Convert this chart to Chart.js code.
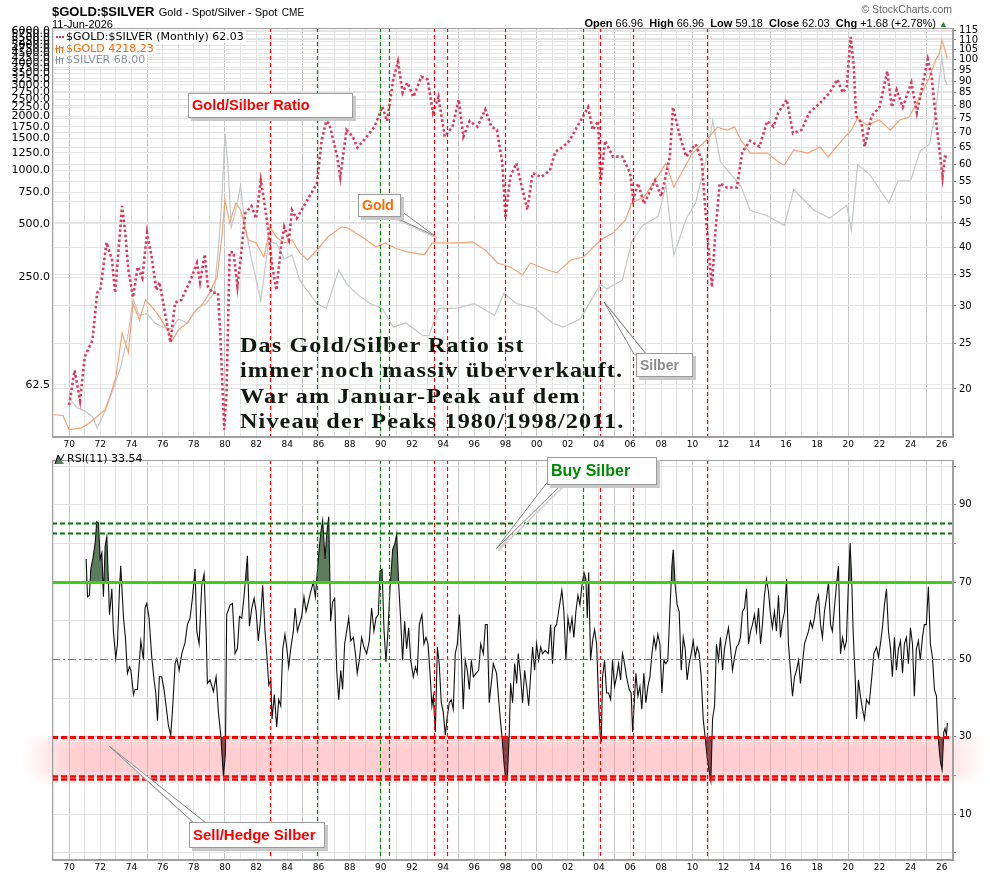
<!DOCTYPE html>
<html>
<head>
<meta charset="utf-8">
<script src="https://cdn.jsdelivr.net/npm/chart.js@4.4.1/dist/chart.umd.min.js"></script>
<style>
  body { margin: 0; background: #fff; width: 990px; height: 876px; overflow: hidden; position: relative; font-family: "Liberation Sans", Arial, sans-serif; }
  canvas { position: absolute; left: 0; }
  #topChart { top: 0; }
  #rsiChart { top: 451px; }
  .abs { position: absolute; white-space: nowrap; }
  .note { position: absolute; background: #fff; border: 1px solid #9a9a9a; box-shadow: 3px 3px 0 #c9c9c9; font-weight: bold; padding-left: 3px; box-sizing: border-box; white-space: nowrap; }
  .big { position: absolute; left: 240px; top: 332px; font-family: "Liberation Serif", "DejaVu Serif", serif; font-weight: bold; font-size: 22px; line-height: 25.4px; letter-spacing: 1px; color: #0f1a0f; white-space: nowrap; transform: scaleX(1.1); transform-origin: 0 0; }
</style>
</head>
<body>
<canvas id="topChart" width="990" height="451"></canvas>
<canvas id="rsiChart" width="990" height="425"></canvas>

<div class="abs" style="left:52px;top:2px;"><b style="font-size:13px;">$GOLD:$SILVER</b> <span style="font-size:11px;">Gold - Spot/Silver - Spot</span> <span style="font-size:10px;">CME</span></div>
<div class="abs" style="left:52px;top:18px;font-size:11px;">11-Jun-2026</div>
<div class="abs" style="right:38px;top:3px;font-size:10.5px;color:#666;">&copy; StockCharts.com</div>
<div class="abs" style="right:42px;top:17px;font-size:11px;"><b>Open</b> 66.96 &nbsp;<b>High</b> 66.96 &nbsp;<b>Low</b> 59.18 &nbsp;<b>Close</b> 62.03 &nbsp;<b>Chg</b> +1.68 (+2.78%) <span style="color:#2a8a2a;font-size:9px;">&#9650;</span></div>

<div class="note" style="left:188px;top:93px;width:165px;height:25px;line-height:23px;color:#ff0000;font-size:14.5px;">Gold/Silber Ratio</div>
<div class="note" style="left:358px;top:194px;width:43px;height:23px;line-height:21px;color:#ff6a00;font-size:14px;">Gold</div>
<div class="note" style="left:636px;top:353px;width:57px;height:24px;line-height:22px;color:#8c8c8c;font-size:14px;">Silber</div>
<div class="note" style="left:547px;top:457px;width:110px;height:28px;line-height:26px;color:#008a00;font-size:16px;">Buy Silber</div>
<div class="note" style="left:189px;top:822px;width:136px;height:26px;line-height:24px;color:#ff0000;font-size:15px;">Sell/Hedge Silber</div>

<div class="big">Das Gold/Silber Ratio ist<br>immer noch massiv überverkauft.<br>War am Januar-Peak auf dem<br>Niveau der Peaks 1980/1998/2011.</div>

<script>
// Gold/Silver ratio, monthly
const ratioDates = [1970.0, 1970.35, 1970.7, 1971.0, 1971.5, 1971.8, 1972.0, 1972.4, 1972.75, 1972.95,
  1973.4, 1973.6, 1973.8, 1974.1, 1974.4, 1974.7, 1975.0, 1975.3, 1975.6, 1975.8,
  1976.2, 1976.5, 1976.8, 1977.2, 1977.8, 1978.2, 1978.4, 1978.7, 1978.9, 1979.2,
  1979.55, 1979.7, 1979.95, 1980.1, 1980.3, 1980.55, 1980.8, 1981.0, 1981.3, 1981.7,
  1982.0, 1982.3, 1982.5, 1982.8, 1983.0, 1983.3, 1983.6, 1983.8, 1984.1, 1984.3,
  1984.6, 1985.3, 1985.9, 1986.2, 1986.5, 1986.7, 1987.2, 1987.4, 1987.8, 1988.2,
  1988.5, 1989.1, 1989.6, 1990.1, 1990.4, 1990.8, 1991.1, 1991.4, 1991.7, 1992.1,
  1992.6, 1993.0, 1993.35, 1993.7, 1994.1, 1994.6, 1995.0, 1995.3, 1995.7, 1996.2,
  1996.7, 1997.1, 1997.45, 1997.8, 1998.0, 1998.3, 1998.7, 1999.1, 1999.4, 1999.75,
  2000.3, 2000.85, 2001.2, 2001.7, 2002.1, 2002.6, 2003.0, 2003.3, 2003.6, 2003.95,
  2004.1, 2004.4, 2004.9, 2005.5, 2006.0, 2006.2, 2006.5, 2006.9, 2007.6, 2008.0,
  2008.55, 2008.75, 2009.2, 2009.6, 2010.2, 2010.6, 2010.8, 2011.0, 2011.25, 2011.45,
  2011.75, 2012.2, 2012.85, 2013.2, 2013.7, 2014.3, 2014.8, 2015.2, 2015.5, 2016.05,
  2016.45, 2017.0, 2017.5, 2018.2, 2018.8, 2019.3, 2019.65, 2019.9, 2020.15, 2020.35,
  2020.5, 2020.85, 2021.05, 2021.5, 2022.0, 2022.5, 2022.8, 2023.1, 2023.5, 2024.05,
  2024.4, 2024.7, 2025.1, 2025.35, 2025.7, 2025.9, 2026.05, 2026.2, 2026.35];
const ratioValues = [18.5, 21.9, 18.9, 23.4, 25.4, 32.0, 32.4, 40.9, 37.6, 32.0,
  48.9, 42.9, 35.8, 31.3, 36.3, 34.4, 42.9, 38.0, 32.4, 33.7,
  28.4, 25.1, 30.5, 30.9, 34.1, 37.0, 33.7, 38.6, 33.0, 32.0,
  32.0, 26.3, 16.4, 19.6, 39.0, 39.0, 33.0, 37.6, 47.2, 48.9,
  46.0, 55.4, 50.4, 42.9, 37.0, 32.4, 40.0, 44.1, 41.4, 47.9,
  46.0, 50.4, 54.6, 67.2, 74.0, 73.0, 62.2, 56.3, 70.9, 68.6,
  65.0, 68.6, 72.0, 79.4, 74.0, 90.7, 98.9, 85.0, 89.3, 83.3,
  91.9, 90.7, 77.1, 83.3, 68.6, 72.0, 82.2, 68.6, 74.0, 72.0,
  78.3, 72.0, 70.9, 60.2, 46.1, 56.3, 60.2, 52.9, 48.0, 57.4,
  56.3, 58.2, 63.7, 65.3, 67.2, 72.0, 75.9, 79.2, 70.9, 74.0,
  54.6, 67.2, 62.2, 62.2, 57.4, 50.4, 54.6, 49.4, 55.4, 51.2,
  62.2, 79.2, 68.6, 62.2, 66.1, 61.1, 49.4, 40.8, 32.9, 42.1,
  54.6, 53.5, 53.5, 63.7, 67.2, 65.3, 74.0, 72.0, 77.1, 82.2,
  69.7, 70.9, 77.1, 80.9, 85.0, 90.7, 85.0, 87.5, 111.6, 96.9,
  75.9, 73.3, 65.3, 75.9, 79.2, 94.4, 79.2, 86.2, 79.2, 89.3,
  77.1, 86.2, 100.0, 91.9, 70.9, 62.2, 56.3, 62.2, 62.03];

// Gold spot (left axis)
const goldDates = [1969.0, 1969.6, 1970.0, 1970.8, 1971.3, 1971.8, 1972.3, 1972.7, 1973.0, 1973.4,
  1973.8, 1974.1, 1974.5, 1974.9, 1975.3, 1975.8, 1976.3, 1976.65, 1977.0, 1977.6,
  1978.0, 1978.6, 1979.0, 1979.5, 1979.8, 1980.0, 1980.3, 1980.7, 1981.0, 1981.5,
  1982.0, 1982.5, 1982.9, 1983.3, 1983.8, 1984.3, 1984.8, 1985.3, 1985.9, 1986.6,
  1987.5, 1987.9, 1988.8, 1989.7, 1990.3, 1990.9, 1991.7, 1992.8, 1993.3, 1994.1,
  1995.1, 1995.9, 1996.7, 1997.5, 1998.3, 1999.1, 1999.6, 2000.7, 2001.3, 2002.2,
  2003.0, 2004.1, 2004.9, 2005.7, 2006.1, 2006.9, 2007.9, 2008.3, 2008.8, 2009.4,
  2010.0, 2010.9, 2011.6, 2012.2, 2012.7, 2013.1, 2013.7, 2014.8, 2015.6, 2015.9,
  2016.5, 2017.4, 2018.2, 2018.7, 2019.6, 2020.2, 2020.6, 2021.2, 2022.0, 2022.7,
  2023.3, 2023.9, 2024.6, 2025.2, 2025.6, 2025.85, 2026.0, 2026.15, 2026.3, 2026.35];
const goldValues = [42.4, 42.0, 35.0, 35.8, 38.1, 41.4, 45.2, 56.3, 69.1, 122,
  94.5, 179, 144, 187, 171, 150, 127, 111, 127, 139,
  158, 179, 204, 252, 421, 679, 505, 653, 597, 405,
  390, 325, 480, 421, 390, 405, 343, 313, 356, 421,
  480, 473, 421, 370, 390, 365, 347, 334, 390, 390,
  390, 395, 356, 301, 286, 258, 301, 275, 265, 313,
  325, 405, 443, 525, 653, 706, 960, 1094, 803, 1000,
  1245, 1473, 1741, 1675, 1741, 1473, 1245, 1245, 1094, 1067,
  1295, 1245, 1345, 1183, 1473, 1675, 1956, 1789, 1908, 1675,
  1908, 1982, 2565, 3320, 4140, 4500, 5350, 4900, 4400, 4218.23];

// Silver spot (own hidden scale)
const silverDates = [1970.0, 1970.5, 1971.0, 1971.5, 1971.8, 1972.3, 1972.8, 1973.3, 1973.8, 1974.1,
  1974.5, 1975.0, 1975.5, 1976.0, 1976.6, 1977.0, 1977.6, 1978.2, 1978.8, 1979.3,
  1979.6, 1979.8, 1980.0, 1980.2, 1980.4, 1980.7, 1981.0, 1981.3, 1981.7, 1982.3,
  1982.8, 1983.3, 1983.8, 1984.3, 1984.8, 1985.9, 1986.5, 1987.3, 1987.8, 1988.4,
  1989.3, 1990.1, 1990.8, 1991.6, 1992.7, 1993.1, 1993.7, 1994.8, 1996.0, 1997.3,
  1997.9, 1998.7, 1999.9, 2001.0, 2001.7, 2002.8, 2004.1, 2004.5, 2005.5, 2006.1,
  2006.8, 2007.8, 2008.3, 2008.8, 2009.6, 2010.2, 2010.9, 2011.3, 2011.8, 2012.5,
  2013.1, 2013.7, 2014.8, 2015.9, 2016.5, 2017.8, 2018.8, 2019.9, 2020.2, 2020.6,
  2021.4, 2022.6, 2023.2, 2024.0, 2024.6, 2025.2, 2025.6, 2026.0, 2026.2, 2026.35];
const silverValues = [1.86, 1.66, 1.6, 1.5, 1.31, 1.6, 2.03, 2.64, 3.9, 5.8,
  4.8, 4.9, 4.4, 4.2, 4.1, 4.6, 4.4, 5.2, 5.5, 6.2,
  10.8, 18.3, 39.0, 26.6, 13.2, 16.1, 21.3, 13.2, 9.2, 5.7,
  11.2, 11.0, 9.2, 9.6, 7.2, 5.5, 5.2, 8.1, 6.9, 6.2,
  5.5, 5.2, 4.2, 4.4, 3.8, 3.8, 5.2, 5.2, 5.5, 4.8,
  6.2, 5.5, 5.2, 4.4, 4.2, 4.6, 6.9, 6.5, 7.2, 11.2,
  13.5, 15.0, 21.4, 9.6, 14.6, 17.5, 29.4, 45.2, 28.1, 24.2,
  21.3, 16.1, 15.1, 13.5, 20.4, 16.1, 14.7, 17.0, 12.8, 27.2,
  24.2, 17.5, 22.6, 22.6, 31.8, 34.2, 49.5, 94.0, 72.2, 68.0];

// RSI(11) of the ratio
const rsiDates = [1971.09, 1971.18, 1971.30, 1971.39, 1971.52, 1971.67, 1971.77, 1971.88, 1971.99, 1972.10,
  1972.20, 1972.31, 1972.42, 1972.52, 1972.59, 1972.74, 1972.84, 1972.99, 1973.10, 1973.23,
  1973.31, 1973.49, 1973.61, 1973.74, 1973.87, 1973.96, 1974.13, 1974.23, 1974.38, 1974.47,
  1974.60, 1974.77, 1974.87, 1974.98, 1975.13, 1975.30, 1975.45, 1975.56, 1975.67, 1975.79,
  1975.94, 1976.09, 1976.22, 1976.37, 1976.52, 1976.65, 1976.80, 1976.91, 1977.06, 1977.23,
  1977.44, 1977.59, 1977.76, 1977.91, 1978.08, 1978.19, 1978.34, 1978.51, 1978.66, 1978.79,
  1978.87, 1979.04, 1979.26, 1979.43, 1979.58, 1979.73, 1979.90, 1980.03, 1980.11, 1980.33,
  1980.48, 1980.65, 1980.80, 1980.93, 1981.08, 1981.23, 1981.44, 1981.57, 1981.72, 1981.87,
  1982.00, 1982.14, 1982.29, 1982.42, 1982.57, 1982.68, 1982.81, 1982.94, 1983.02, 1983.17,
  1983.32, 1983.45, 1983.58, 1983.71, 1983.85, 1983.96, 1984.09, 1984.22, 1984.39, 1984.50,
  1984.65, 1984.77, 1984.92, 1985.07, 1985.20, 1985.35, 1985.50, 1985.67, 1985.80, 1985.99,
  1986.14, 1986.27, 1986.42, 1986.53, 1986.66, 1986.78, 1986.91, 1987.04, 1987.17, 1987.30,
  1987.43, 1987.55, 1987.68, 1987.81, 1987.94, 1988.07, 1988.24, 1988.37, 1988.49, 1988.62,
  1988.77, 1988.92, 1989.09, 1989.26, 1989.41, 1989.56, 1989.69, 1989.84, 1989.95, 1990.08,
  1990.21, 1990.33, 1990.46, 1990.59, 1990.76, 1990.91, 1991.02, 1991.15, 1991.27, 1991.40,
  1991.53, 1991.66, 1991.79, 1991.92, 1992.09, 1992.22, 1992.34, 1992.47, 1992.64, 1992.77,
  1992.90, 1993.03, 1993.16, 1993.28, 1993.37, 1993.50, 1993.63, 1993.75, 1993.88, 1994.01,
  1994.14, 1994.27, 1994.40, 1994.52, 1994.65, 1994.78, 1994.91, 1995.04, 1995.17, 1995.29,
  1995.42, 1995.55, 1995.68, 1995.81, 1995.94, 1996.11, 1996.28, 1996.41, 1996.58, 1996.71,
  1996.83, 1996.96, 1997.22, 1997.43, 1997.65, 1997.75, 1997.90, 1998.01, 1998.12, 1998.24,
  1998.33, 1998.46, 1998.59, 1998.72, 1998.82, 1998.97, 1999.10, 1999.23, 1999.36, 1999.49,
  1999.61, 1999.74, 1999.87, 2000.00, 2000.13, 2000.26, 2000.38, 2000.55, 2000.75, 2000.90,
  2001.02, 2001.15, 2001.28, 2001.41, 2001.54, 2001.62, 2001.75, 2001.88, 2002.01, 2002.14,
  2002.27, 2002.39, 2002.52, 2002.65, 2002.78, 2002.91, 2003.04, 2003.16, 2003.25, 2003.34,
  2003.46, 2003.59, 2003.72, 2003.85, 2003.98, 2004.08, 2004.15, 2004.23, 2004.36, 2004.49,
  2004.62, 2004.75, 2004.87, 2005.00, 2005.13, 2005.26, 2005.39, 2005.51, 2005.64, 2005.77,
  2005.94, 2006.07, 2006.16, 2006.24, 2006.37, 2006.50, 2006.63, 2006.75, 2006.88, 2007.01,
  2007.14, 2007.27, 2007.40, 2007.53, 2007.65, 2007.78, 2007.91, 2008.04, 2008.17, 2008.30,
  2008.42, 2008.55, 2008.68, 2008.77, 2008.89, 2009.02, 2009.15, 2009.28, 2009.41, 2009.53,
  2009.66, 2009.79, 2009.92, 2010.05, 2010.18, 2010.30, 2010.43, 2010.56, 2010.69, 2010.82,
  2010.95, 2011.07, 2011.18, 2011.29, 2011.42, 2011.54, 2011.67, 2011.80, 2011.93, 2012.06,
  2012.19, 2012.31, 2012.44, 2012.57, 2012.70, 2012.83, 2012.96, 2013.08, 2013.21, 2013.34,
  2013.47, 2013.60, 2013.73, 2013.85, 2013.98, 2014.11, 2014.24, 2014.37, 2014.49, 2014.62,
  2014.75, 2014.88, 2014.99, 2015.13, 2015.26, 2015.39, 2015.52, 2015.65, 2015.78, 2015.91,
  2016.04, 2016.16, 2016.29, 2016.42, 2016.55, 2016.68, 2016.81, 2016.93, 2017.06, 2017.19,
  2017.32, 2017.45, 2017.57, 2017.70, 2017.83, 2017.96, 2018.09, 2018.22, 2018.34, 2018.47,
  2018.60, 2018.73, 2018.86, 2018.98, 2019.11, 2019.24, 2019.37, 2019.50, 2019.63, 2019.76,
  2019.88, 2020.01, 2020.12, 2020.23, 2020.31, 2020.44, 2020.53, 2020.65, 2020.78, 2020.91,
  2021.04, 2021.17, 2021.34, 2021.51, 2021.64, 2021.81, 2021.94, 2022.06, 2022.19, 2022.32,
  2022.45, 2022.58, 2022.71, 2022.83, 2022.96, 2023.09, 2023.22, 2023.35, 2023.48, 2023.60,
  2023.73, 2023.86, 2023.99, 2024.12, 2024.24, 2024.37, 2024.50, 2024.62, 2024.76, 2024.88,
  2025.01, 2025.14, 2025.27, 2025.40, 2025.53, 2025.66, 2025.79, 2025.91, 2026.02, 2026.13,
  2026.21, 2026.30, 2026.36];
const rsiValues = [76.0, 66.2, 66.6, 73.4, 76.0, 80.1, 85.6, 85.3, 76.0, 77.6,
  66.2, 79.3, 81.8, 70.0, 61.6, 68.3, 57.3, 50.2, 54.0, 68.3,
  74.2, 60.7, 55.7, 46.4, 48.1, 47.2, 40.9, 42.2, 42.2, 47.2,
  54.8, 49.8, 63.3, 64.5, 60.7, 50.6, 44.7, 41.3, 34.2, 45.5,
  45.5, 42.2, 38.0, 32.9, 30.4, 38.0, 48.9, 50.2, 47.2, 51.5,
  54.4, 59.0, 60.7, 65.8, 73.4, 57.3, 54.0, 69.2, 72.1, 57.3,
  43.8, 44.7, 41.7, 45.5, 36.3, 30.4, 19.8, 25.7, 61.6, 64.1,
  64.5, 51.5, 52.8, 61.1, 60.7, 66.6, 76.8, 58.6, 63.3, 65.8,
  62.4, 54.8, 60.7, 69.2, 57.3, 51.5, 43.4, 44.7, 34.6, 40.9,
  32.5, 39.6, 38.0, 52.8, 56.5, 53.2, 48.1, 52.8, 57.3, 63.3,
  57.3, 59.0, 61.1, 66.2, 62.4, 64.9, 67.5, 70.0, 66.2, 76.0,
  82.6, 86.0, 76.0, 82.6, 86.9, 59.9, 64.9, 65.8, 47.2, 39.6,
  47.2, 42.2, 54.0, 57.3, 60.7, 54.8, 55.7, 51.5, 46.4, 49.8,
  55.7, 53.2, 51.5, 54.8, 63.3, 57.3, 60.7, 61.6, 72.9, 73.3,
  57.3, 49.4, 57.3, 68.3, 78.4, 80.1, 82.4, 69.2, 60.7, 49.8,
  59.9, 52.8, 58.2, 49.8, 45.5, 48.1, 46.4, 59.0, 61.6, 54.0,
  55.7, 54.0, 46.4, 38.0, 40.5, 31.2, 53.2, 48.9, 38.8, 36.3,
  30.4, 35.4, 38.8, 39.6, 37.1, 51.5, 54.0, 61.6, 51.5, 37.1,
  49.8, 47.2, 42.2, 49.8, 45.5, 46.4, 47.2, 54.0, 51.5, 59.0,
  59.0, 38.8, 48.9, 46.4, 35.4, 31.2, 23.6, 19.0, 19.4, 30.4,
  43.8, 38.8, 48.9, 43.8, 51.5, 45.5, 38.8, 47.2, 43.0, 38.0,
  45.5, 53.2, 47.2, 54.0, 49.8, 53.2, 51.5, 52.3, 51.5, 59.0,
  48.9, 58.2, 59.0, 62.4, 65.8, 67.9, 62.4, 49.8, 60.7, 57.3,
  60.7, 55.7, 62.4, 66.6, 64.1, 69.2, 72.5, 70.8, 60.7, 72.5,
  49.8, 54.8, 57.7, 54.0, 38.8, 30.4, 28.7, 45.5, 49.8, 41.3,
  41.3, 39.6, 49.8, 43.0, 45.5, 48.9, 44.7, 51.5, 48.9, 45.5,
  42.2, 41.3, 31.2, 37.1, 46.4, 40.5, 43.0, 37.1, 46.4, 38.8,
  43.0, 45.5, 51.5, 55.7, 52.8, 56.5, 54.0, 41.3, 49.8, 48.9,
  49.8, 62.4, 74.2, 78.4, 69.2, 64.1, 62.4, 47.2, 55.7, 52.8,
  44.7, 48.9, 51.5, 54.8, 50.6, 53.2, 51.5, 45.5, 34.6, 29.6,
  24.5, 21.1, 18.6, 34.6, 38.0, 54.0, 49.8, 55.7, 47.2, 52.8,
  55.7, 58.2, 53.2, 47.2, 50.6, 53.2, 54.0, 55.7, 62.4, 63.3,
  68.3, 54.0, 57.3, 59.0, 61.6, 57.3, 63.3, 54.0, 59.0, 66.6,
  70.8, 67.5, 62.4, 58.2, 62.4, 57.3, 66.6, 55.7, 59.9, 62.4,
  70.8, 54.0, 47.2, 40.5, 45.5, 47.2, 49.8, 43.8, 48.9, 54.0,
  55.7, 57.3, 59.9, 58.2, 60.7, 64.9, 66.6, 59.0, 55.7, 62.4,
  65.8, 70.0, 59.0, 57.3, 63.3, 69.2, 74.2, 51.5, 55.7, 52.8,
  54.8, 70.0, 80.1, 69.2, 57.3, 45.5, 34.6, 44.7, 40.5, 37.1,
  34.6, 39.6, 38.4, 45.5, 51.5, 53.2, 50.6, 54.0, 58.2, 64.1,
  68.3, 57.3, 52.8, 45.5, 55.7, 47.2, 52.8, 54.8, 46.4, 54.0,
  55.7, 48.9, 58.2, 54.0, 40.5, 52.8, 54.8, 49.8, 55.7, 59.0,
  59.0, 68.8, 54.0, 50.6, 42.2, 40.5, 28.7, 23.6, 21.5, 31.2,
  32.1, 30.4, 33.54];

// axis ticks
const xLabelYears = [1970, 1972, 1974, 1976, 1978, 1980, 1982, 1984, 1986, 1988, 1990, 1992, 1994, 1996, 1998,
  2000, 2002, 2004, 2006, 2008, 2010, 2012, 2014, 2016, 2018, 2020, 2022, 2024, 2026];
const ratioTicks = [20, 25, 30, 35, 40, 45, 50, 55, 60, 65, 70, 75, 80, 85, 90, 95, 100, 105, 110, 115];
const goldTicks = [62.5, 250, 500, 750, 1000, 1250, 1500, 1750, 2000, 2250, 2500, 2750, 3000, 3250, 3500,
  3750, 4000, 4250, 4500, 4750, 5000, 5250, 5500, 5750, 6000];
const rsiTicks = [10, 30, 50, 70, 90];
const rsiGrid = [0, 10, 20, 30, 40, 50, 60, 70, 80, 90, 100];

// signal markers and RSI levels
const markerYears = [1982.9, 1985.9, 1989.95, 1990.55, 1993.4, 1994.25, 1997.97, 2002.97, 2004.05, 2006.18, 2010.92];
const markerKinds = ['sell', 'buy', 'buy', 'buy', 'sell', 'sell', 'sell', 'buy', 'sell', 'sell', 'sell'];
const buyLevels = [85.4, 82.6];
const sellLevels = [19.9, 19.0];

const gridYears = [];
for (let y = 1969; y <= 2026; y++) gridYears.push(y);

const pts = (xs, ys) => xs.map((x, i) => ({ x: x, y: ys[i] }));
const yearLabel = (v) => xLabelYears.includes(v) ? String(v).slice(2) : '';
const gridColor = (c) => (c.tick && c.tick.value % 5 === 0) ? '#c6c6c6' : '#e3e3e3';
const smallFont = { family: 'DejaVu Sans', size: 9 };

function drawPointer(ctx, b1, b2, tip) {
  ctx.save();
  ctx.beginPath();
  ctx.moveTo(b1[0] + 2, b1[1] + 2); ctx.lineTo(tip[0] + 2, tip[1] + 2); ctx.lineTo(b2[0] + 2, b2[1] + 2);
  ctx.strokeStyle = '#cfcfcf'; ctx.lineWidth = 1.5; ctx.stroke();
  ctx.beginPath();
  ctx.moveTo(b1[0], b1[1]); ctx.lineTo(tip[0], tip[1]); ctx.lineTo(b2[0], b2[1]);
  ctx.fillStyle = '#fff'; ctx.fill();
  ctx.strokeStyle = '#8a8a8a'; ctx.lineWidth = 1; ctx.stroke();
  ctx.restore();
}

function drawMarkers(chart) {
  const { ctx, chartArea: a, scales: { x } } = chart;
  ctx.save();
  ctx.lineWidth = 1.2;
  ctx.setLineDash([4, 3]);
  markerYears.forEach((yr, i) => {
    const px = Math.round(x.getPixelForValue(yr)) + 0.5;
    ctx.strokeStyle = markerKinds[i] === 'buy' ? '#008a00' : '#ff0000';
    ctx.beginPath(); ctx.moveTo(px, a.top); ctx.lineTo(px, a.bottom); ctx.stroke();
  });
  ctx.restore();
}

function frame(chart) {
  const { ctx, chartArea: a } = chart;
  ctx.save();
  ctx.strokeStyle = '#a0a0a0'; ctx.lineWidth = 1;
  ctx.strokeRect(a.left + 0.5, a.top + 0.5, a.right - a.left - 1, a.bottom - a.top - 1);
  ctx.restore();
}

const topPlugin = {
  id: 'topExtras',
  afterDatasetsDraw(chart) { drawMarkers(chart); },
  afterDraw(chart) {
    const ctx = chart.ctx;
    frame(chart);
    ctx.save();
    ctx.font = '11px "DejaVu Sans"';
    ctx.textBaseline = 'middle';
    const rows = [
      { t: '$GOLD:$SILVER (Monthly) 62.03', c: '#000', y: 37 },
      { t: '$GOLD 4218.23', c: '#ff6600', y: 49 },
      { t: '$SILVER 68.00', c: '#8a959b', y: 60 }
    ];
    rows.forEach((r, i) => {
      const w = ctx.measureText(r.t).width;
      ctx.fillStyle = '#fff';
      ctx.fillRect(54, r.y - 6, w + 14, 12);
      ctx.fillStyle = r.c;
      ctx.fillText(r.t, 66, r.y);
      if (i === 0) {
        ctx.fillStyle = '#dc3a5c';
        [56, 59, 62].forEach(px => ctx.fillRect(px, r.y - 1, 2, 2));
      } else {
        ctx.strokeStyle = r.c; ctx.lineWidth = 1;
        ctx.beginPath();
        [56, 59, 62].forEach((px, k) => { ctx.moveTo(px + 0.5, r.y - 4 + k); ctx.lineTo(px + 0.5, r.y + 4); });
        ctx.moveTo(55, r.y); ctx.lineTo(64, r.y - 2);
        ctx.stroke();
      }
    });
    ctx.restore();
    drawPointer(ctx, [392, 216], [401, 211], [435, 236]);
    drawPointer(ctx, [634, 354], [646, 354], [604, 302]);
  }
};

const rsiPlugin = {
  id: 'rsiExtras',
  beforeDatasetsDraw(chart) {
    const { ctx, scales: { y } } = chart;
    const top = y.getPixelForValue(30) + 2;
    const bot = y.getPixelForValue(19.4);
    ctx.save();
    const g = ctx.createLinearGradient(25, 0, 985, 0);
    g.addColorStop(0, 'rgba(255,140,145,0)');
    g.addColorStop(0.05, 'rgba(255,140,145,0.42)');
    g.addColorStop(0.94, 'rgba(255,140,145,0.42)');
    g.addColorStop(1, 'rgba(255,140,145,0)');
    ctx.filter = 'blur(4px)';
    ctx.fillStyle = g;
    ctx.fillRect(25, top, 960, bot - top);
    ctx.restore();
  },
  afterDatasetsDraw(chart) {
    const { ctx, chartArea: a, scales: { y } } = chart;
    drawMarkers(chart);
    const hline = (v, color, w, dash) => {
      const py = Math.round(y.getPixelForValue(v)) + 0.5;
      ctx.save();
      ctx.strokeStyle = color; ctx.lineWidth = w; ctx.setLineDash(dash);
      ctx.beginPath(); ctx.moveTo(a.left, py); ctx.lineTo(a.right, py); ctx.stroke();
      ctx.restore();
    };
    hline(50, '#777', 1, [8, 3, 2, 3]);
    buyLevels.forEach(v => hline(v, '#007a00', 2.2, [5, 3]));
    hline(70, '#44cc1a', 3, []);
    hline(30, '#ff0000', 3, [6, 3]);
    sellLevels.forEach(v => hline(v, '#ff0000', 2.4, [6, 3]));
  },
  afterDraw(chart) {
    const ctx = chart.ctx;
    frame(chart);
    ctx.save();
    ctx.font = '11px "DejaVu Sans"';
    ctx.textBaseline = 'middle';
    ctx.fillStyle = '#000';
    ctx.fillText('RSI(11) 33.54', 67, 8);
    ctx.fillStyle = '#5d7b5d';
    ctx.beginPath(); ctx.moveTo(55, 13); ctx.lineTo(58, 4); ctx.lineTo(61, 9); ctx.lineTo(64, 13); ctx.closePath(); ctx.fill();
    ctx.strokeStyle = '#000'; ctx.lineWidth = 1;
    ctx.beginPath(); ctx.moveTo(55, 13); ctx.lineTo(58, 4); ctx.lineTo(61, 9); ctx.lineTo(64, 3); ctx.stroke();
    ctx.restore();
    drawPointer(ctx, [549, 29], [562, 33], [496, 98]);
    drawPointer(ctx, [194, 372], [206, 372], [109, 295]);
  }
};

const xScale = (height) => ({
  type: 'linear', min: 1968.9, max: 2026.72,
  afterBuildTicks: (s) => { s.ticks = gridYears.map(v => ({ value: v })); },
  afterFit: (s) => { s.height = height; },
  ticks: { callback: yearLabel, autoSkip: false, maxRotation: 0, font: smallFont, color: '#000', padding: 2 },
  grid: { color: gridColor, drawTicks: false },
  border: { color: '#a0a0a0' }
});

new Chart(document.getElementById('topChart'), {
  type: 'line',
  data: {
    datasets: [
      { data: pts(silverDates, silverValues), yAxisID: 'yS', borderColor: '#c2c7c7', borderWidth: 1.2, pointRadius: 0, order: 3 },
      { data: pts(goldDates, goldValues), yAxisID: 'yG', borderColor: '#f7a273', borderWidth: 1.2, pointRadius: 0, order: 2 },
      { data: pts(ratioDates, ratioValues), yAxisID: 'yR', borderColor: '#dc3a5c', borderWidth: 2.6, borderDash: [2.5, 2.5], pointRadius: 0, order: 1 }
    ]
  },
  options: {
    responsive: false, animation: false, devicePixelRatio: 1, events: [],
    layout: { padding: { top: 28, left: 0, right: 0, bottom: 0 } },
    plugins: { legend: { display: false }, tooltip: { enabled: false } },
    scales: {
      x: xScale(14),
      yG: {
        type: 'logarithmic', position: 'left', min: 31.8, max: 6260,
        afterBuildTicks: (s) => { s.ticks = goldTicks.map(v => ({ value: v })); },
        afterFit: (s) => { s.width = 52; },
        ticks: { callback: (v) => Number(v).toFixed(1), font: { family: 'DejaVu Sans', size: 11 }, color: '#000', padding: 2, autoSkip: false },
        grid: { color: '#e6e6e6', drawTicks: false },
        border: { color: '#a0a0a0' }
      },
      yR: {
        type: 'logarithmic', position: 'right', min: 15.82, max: 116.6,
        afterBuildTicks: (s) => { s.ticks = ratioTicks.map(v => ({ value: v })); },
        afterFit: (s) => { s.width = 37; },
        ticks: { callback: (v) => String(v), font: { family: 'DejaVu Sans', size: 10 }, color: '#000', padding: 3, autoSkip: false },
        grid: { color: '#e3e3e3', tickLength: 3, tickColor: '#888' },
        border: { color: '#a0a0a0' }
      },
      yS: { type: 'logarithmic', display: false, min: 1.185, max: 131 }
    }
  },
  plugins: [topPlugin]
});

new Chart(document.getElementById('rsiChart'), {
  type: 'line',
  data: {
    datasets: [
      { data: pts(rsiDates, rsiValues), borderColor: '#111', borderWidth: 1.1, pointRadius: 0,
        fill: { target: { value: 70 }, above: '#5d7b5d', below: 'rgba(0,0,0,0)' } },
      { data: pts(rsiDates, rsiValues), borderColor: 'rgba(0,0,0,0)', borderWidth: 0, pointRadius: 0,
        fill: { target: { value: 30 }, above: 'rgba(0,0,0,0)', below: '#8b4a4a' } }
    ]
  },
  options: {
    responsive: false, animation: false, devicePixelRatio: 1, events: [],
    layout: { padding: { top: 1, left: 52, right: 0, bottom: 0 } },
    plugins: { legend: { display: false }, tooltip: { enabled: false } },
    scales: {
      x: xScale(16),
      y: {
        type: 'linear', position: 'right', min: -1.9, max: 101.6,
        afterBuildTicks: (s) => { s.ticks = rsiGrid.map(v => ({ value: v })); },
        afterFit: (s) => { s.width = 37; },
        ticks: { callback: (v) => rsiTicks.includes(v) ? String(v) : '', font: { family: 'DejaVu Sans', size: 10 }, color: '#000', padding: 3, autoSkip: false },
        grid: { color: '#e3e3e3', tickLength: 3, tickColor: '#888' },
        border: { color: '#a0a0a0' }
      }
    }
  },
  plugins: [rsiPlugin]
});
</script>
</body>
</html>
